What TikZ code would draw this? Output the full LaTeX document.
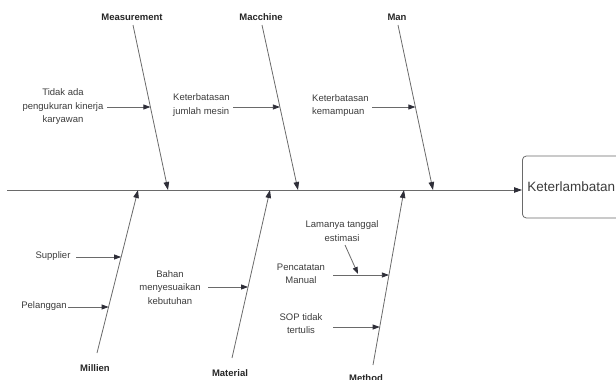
\documentclass[tikz,border=0pt]{standalone}
\usepackage{fontspec}
\setmainfont{Liberation Sans}
\usetikzlibrary{arrows.meta}
\definecolor{ink}{HTML}{3C3C3C}
\definecolor{bonegray}{HTML}{6A6A6A}
\definecolor{tipgray}{HTML}{2E2E38}
\begin{document}
\begin{tikzpicture}[x=1pt,y=-1pt,
  txt/.style={font=\fontsize{9.5}{13.5}\selectfont, text=ink, align=center, inner sep=1pt},
  cat/.style={font=\fontsize{9.5}{12}\selectfont\bfseries, text=black!85, inner sep=1pt},
  bone/.style={draw=bonegray, line width=0.8pt, -{Triangle[length=8pt,width=5.5pt,color=tipgray]}},
  sub/.style={draw=bonegray, line width=0.8pt, -{Triangle[length=7pt,width=5pt,color=tipgray]}},
  effectbox/.style={draw=bonegray, line width=0.8pt, rounded corners=4pt, minimum height=62pt,
    text width=150pt, inner xsep=5pt, align=left, anchor=west,
    font=\fontsize{13.5}{16}\selectfont, text=ink}]
\useasboundingbox (0,0) rectangle (616,380);

% effect box and spine
\node[effectbox] (effect) at (522,187) {Keterlambatan};
\coordinate (tail) at (7,190);
\draw[bone] (tail) -- (effect.west |- tail);

% category labels
\node[cat] (meas) at (132,17) {Measurement};
\node[cat] (mach) at (261,17) {Macchine};
\node[cat] (man) at (397,17) {Man};
\node[cat] (mil) at (95,368) {Millien};
\node[cat] (mat) at (230,373) {Material};
\node[cat] (meth) at (366,378) {Method};

% bone end points on the spine
\coordinate (measS) at (168,190);
\coordinate (machS) at (298,190);
\coordinate (manS) at (433,190);
\coordinate (milS) at (138,190);
\coordinate (matS) at (270,190);
\coordinate (methS) at (404,190);

% bones
\draw[bone] (133,25) coordinate (measT) -- (measS);
\draw[bone] (262,25) coordinate (machT) -- (machS);
\draw[bone] (398,25) coordinate (manT) -- (manS);
\draw[bone] (97,353) coordinate (milB) -- (milS);
\draw[bone] (232,358) coordinate (matB) -- (matS);
\draw[bone] (373,365) coordinate (methB) -- (methS);

% points where causes meet their bones
\coordinate (c1) at (150.4,107);
\coordinate (c2) at (279.9,107);
\coordinate (c3) at (415.4,107);
\coordinate (c4) at (121.1,257);
\coordinate (c5) at (108.6,307);
\coordinate (c6) at (248.1,287);
\coordinate (c7) at (388.9,275);
\coordinate (c8) at (379.7,327);
\coordinate (c9) at (358,274);

% causes
\node[txt] (t1) at (63,107) {Tidak ada\\pengukuran kinerja\\karyawan};
\node[txt, align=left, anchor=west] (t2) at (172,105) {Keterbatasan\\jumlah mesin};
\node[txt, align=left, anchor=west] (t3) at (311,105.5) {Keterbatasan\\kemampuan};
\node[txt] (t4) at (53,256) {Supplier};
\node[txt] (t5) at (44,306) {Pelanggan};
\node[txt] (t6) at (170,287.5) {Bahan\\menyesuaikan\\kebutuhan};
\node[txt] (t7) at (342,231) {Lamanya tanggal\\estimasi};
\node[txt] (t8) at (301,274) {Pencatatan\\Manual};
\node[txt] (t9) at (301,323.5) {SOP tidak\\tertulis};

\coordinate (s1) at (107,107);
\coordinate (s2) at (233,107);
\coordinate (s3) at (372,107);
\coordinate (s4) at (76,257);
\coordinate (s5) at (68,307);
\coordinate (s6) at (208,287);
\coordinate (s7) at (333,275);
\coordinate (s8) at (333,327);
\coordinate (s9) at (345,245);

\draw[sub] (s1) -- (c1);
\draw[sub] (s2) -- (c2);
\draw[sub] (s3) -- (c3);
\draw[sub] (s4) -- (c4);
\draw[sub] (s5) -- (c5);
\draw[sub] (s6) -- (c6);
\draw[sub] (s7) -- (c7);
\draw[sub] (s8) -- (c8);
\draw[sub] (s9) -- (c9);
\end{tikzpicture}
\end{document}
